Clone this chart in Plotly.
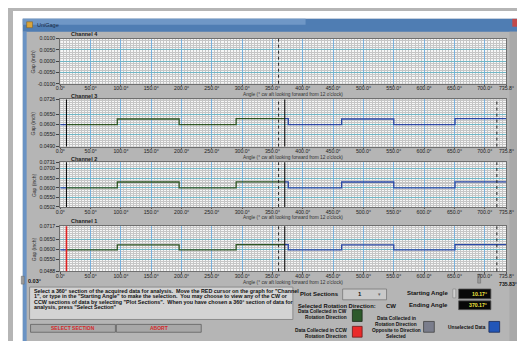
import numpy as np
import plotly.graph_objects as go

W, H = 525, 341


def X(px):
    return px / W


def Y(py):
    return 1 - py / H


# ---------------- data ----------------
step_angles = [0, 94, 196, 290, 376, 464, 550, 651]
max_angle = 735.83
ch3_levels = [0.0600, 0.0628, 0.0600, 0.0630, 0.0600, 0.0628, 0.0600, 0.0630]
ch2_levels = [0.0600, 0.0630, 0.0600, 0.0631, 0.0600, 0.0630, 0.0600, 0.0631]
ch1_levels = [0.0597, 0.0622, 0.0597, 0.0623, 0.0597, 0.0622, 0.0597, 0.0623]
start_angle = 10.17
end_angle = 370.17
rev_marks_ch4 = [360]
rev_marks = [360, 720]

x_tick_vals = [0, 50, 100, 150, 200, 250, 300, 350, 400, 450, 500, 550, 600, 650, 700, 735.83]
x_tick_text = ["0.0°", "50.0°", "100.0°", "150.0°", "200.0°", "250.0°", "300.0°", "350.0°",
               "400.0°", "450.0°", "500.0°", "550.0°", "600.0°", "650.0°", "700.0°", "735.8°"]
ch4_ticks = [-0.0100, -0.0050, 0.0000, 0.0050, 0.0100]
ch4_ticktext = ["-0.0100", "-0.0050", "0.0000", "0.0050", "0.0100"]
ch3_ticks = [0.0490, 0.0550, 0.0600, 0.0650, 0.0726]
ch3_ticktext = ["0.0490", "0.0550", "0.0600", "0.0650", "0.0726"]
ch2_ticks = [0.0502, 0.0550, 0.0600, 0.0650, 0.0700, 0.0731]
ch2_ticktext = ["0.0502", "0.0550", "0.0600", "0.0650", "0.0700", "0.0731"]
ch1_ticks = [0.0488, 0.0550, 0.0600, 0.0650, 0.0717]
ch1_ticktext = ["0.0488", "0.0550", "0.0600", "0.0650", "0.0717"]

# ---------------- styles ----------------
BG = "#b5b5b5"
GREEN = "#2e5522"
BLUE = "#2b48a6"
FONT = "Liberation Sans"
NARROW = "Liberation Sans Narrow, Arial Narrow, Liberation Sans"


def segment(a0, a1, angles, levels):
    xs, ys = [], []
    for i, a in enumerate(angles):
        nxt = angles[i + 1] if i + 1 < len(angles) else max_angle
        if nxt <= a0 or a >= a1:
            continue
        xs.append(max(a, a0))
        ys.append(levels[i])
    xs.append(a1)
    ys.append(ys[-1])
    return xs, ys


fig = go.Figure()

# panel geometry (pixels)
panels = [
    ("Channel 4", 28, 74, [-0.0100, 0.0100], ch4_ticks, ch4_ticktext, None, 23),
    ("Channel 3", 90, 138, [0.0490, 0.0726], ch3_ticks, ch3_ticktext, ch3_levels, 86.5),
    ("Channel 2", 154, 199.5, [0.0502, 0.0731], ch2_ticks, ch2_ticktext, ch2_levels, 150.5),
    ("Channel 1", 219, 265, [0.0488, 0.0717], ch1_ticks, ch1_ticktext, ch1_levels, 213.5),
]
PX0, PX1 = 48.5, 506

minor_x = [v for v in np.arange(0, max_angle, 5.0)]

shapes = []
annotations = []

for i, (name, top, bot, yr, tv, tt, levels, title_y) in enumerate(panels):
    k = "" if i == 0 else str(i + 1)
    xa, ya = "x" + k, "y" + k
    minor_y = [v for v in np.arange(np.ceil(yr[0] / 0.001) * 0.001, yr[1], 0.001)]
    fig.update_layout(**{
        "xaxis" + k: dict(
            domain=[X(PX0), X(PX1)], range=[0, max_angle], anchor=ya,
            tickmode="array", tickvals=x_tick_vals, ticktext=x_tick_text,
            showgrid=True, gridcolor="#78b0dc", gridwidth=1,
            minor=dict(tickmode="array", tickvals=minor_x, showgrid=True,
                       gridcolor="#c6c6c6", gridwidth=0.7, ticks=""),
            ticks="outside", ticklen=1.5, tickcolor="#555", tickwidth=0.6,
            ticklabelstandoff=-2,
            tickfont=dict(family=FONT, size=5.2, color="#222"),
            showline=True, linecolor="#6f6f6f", linewidth=1, mirror=True,
            zeroline=False, fixedrange=True,
        ),
        "yaxis" + k: dict(
            domain=[Y(bot), Y(top)], range=yr, anchor=xa,
            tickmode="array", tickvals=tv, ticktext=tt,
            showgrid=True, gridcolor="#70b7c6", gridwidth=1,
            minor=dict(tickmode="array", tickvals=minor_y, showgrid=True,
                       gridcolor="#c6c6c6", gridwidth=0.7, ticks=""),
            ticks="outside", ticklen=3, tickcolor="#444", tickwidth=0.6,
            tickfont=dict(family=FONT, size=5.2, color="#222"),
            showline=True, linecolor="#6f6f6f", linewidth=1, mirror=True,
            zeroline=False, fixedrange=True,
        ),
    })

    if levels is not None:
        for a0, a1, col in [(0, start_angle, BLUE), (start_angle, end_angle, GREEN),
                            (end_angle, max_angle, BLUE)]:
            xs, ys = segment(a0, a1, step_angles, levels)
            fig.add_trace(go.Scatter(x=xs, y=ys, mode="lines", line_shape="hv",
                                     line=dict(color=col, width=1.3),
                                     xaxis=xa, yaxis=ya, showlegend=False,
                                     hoverinfo="skip"))
        start_col = "#e02020" if name == "Channel 1" else "#111"
        start_w = 1.6 if name == "Channel 1" else 1.1
        shapes.append(dict(type="line", xref=xa, yref=ya + " domain", x0=start_angle, x1=start_angle,
                           y0=0, y1=1, line=dict(color=start_col, width=start_w)))
        shapes.append(dict(type="line", xref=xa, yref=ya + " domain", x0=end_angle, x1=end_angle,
                           y0=0, y1=1, line=dict(color="#111", width=1.1)))
        marks = rev_marks
    else:
        marks = rev_marks_ch4
    for m in marks:
        shapes.append(dict(type="line", xref=xa, yref=ya + " domain", x0=m, x1=m, y0=0, y1=1,
                           line=dict(color="#222", width=1, dash="dot")))

    annotations.append(dict(x=X(57), y=Y(title_y), xref="paper", yref="paper", text="<b>" + name + "</b>",
                            showarrow=False, xanchor="left", yanchor="middle",
                            font=dict(family=FONT, size=5.5, color="#222")))
    annotations.append(dict(x=X(287), y=Y(bot + 11), xref="paper", yref="paper",
                            text="Angle (° cw aft looking forward from 12 o'clock)",
                            showarrow=False, xanchor="center", yanchor="middle",
                            font=dict(family=FONT, size=4.8, color="#333")))
    annotations.append(dict(x=X(21), y=Y((top + bot) / 2), xref="paper", yref="paper",
                            text="Gap (inch)", textangle=-90,
                            showarrow=False, xanchor="center", yanchor="middle",
                            font=dict(family=FONT, size=5, color="#333")))


def rect(x0, y0, x1, y1, fill, line=None, lw=0, layer="below"):
    shapes.append(dict(type="rect", xref="paper", yref="paper", x0=X(x0), x1=X(x1), y0=Y(y1), y1=Y(y0),
                       fillcolor=fill, line=dict(color=line or fill, width=lw), layer=layer))


def text(x, y, s, size=5.5, color="#111", anchor="left", bold=True, family=FONT):
    annotations.append(dict(x=X(x), y=Y(y), xref="paper", yref="paper",
                            text=("<b>%s</b>" % s) if bold else s,
                            showarrow=False, xanchor=anchor, yanchor="middle",
                            font=dict(family=family, size=size, color=color)))


# window chrome
rect(0, 0, 525, 8, "#ffffff")
rect(522, 0, 525, 341, "#ffffff")
rect(0, 0, 10, 341, "#ffffff")
rect(10, 8, 522, 21, "#4f7db3")
rect(10, 8, 300, 14, "#6f97c6")
rect(10, 21, 14, 341, "#6a93c4")
rect(509, 21, 519, 341, "#a9a9a9")
rect(519, 21, 522, 341, "#6a8fbc")
rect(512, 8, 522, 16, "#c24a4a")
rect(14, 11, 20, 17, "#d9a43a", "#7a5a20", 0.5)
text(23, 14, "UniGage", size=5.5, color="#1a2a44", bold=False)

# slider bits
rect(8.5, 270, 11.5, 278, "#9a9a9a", "#666", 0.5)
text(13, 274.5, "0.03°", size=5.5, color="#111")
rect(476.5, 268, 479.5, 277, "#9a9a9a", "#666", 0.5)
text(508, 277.5, "735.83°", size=5.2, color="#111", anchor="center")

# instruction box
rect(17, 281, 287, 314, "#d3d3d3", "#8a8a8a", 1)
lines = [
    "Select a 360° section of the acquired data for analysis.  Move the RED cursor on the graph for \"Channel",
    "1\", or type in the \"Starting Angle\" to make the selection.  You may choose to view any of the CW or",
    "CCW sections of data by selecting \"Plot Sections\".  When you have chosen a 360° section of data for",
    "analysis, press \"Select Section\"",
]
for j, ln in enumerate(lines):
    text(19, 285 + 5.6 * j, ln, size=5.4, color="#111", family=NARROW)

# buttons
rect(18, 319, 105, 327, "#a8a8a8", "#5f5f5f", 0.8)
rect(106, 319, 193, 327, "#a8a8a8", "#5f5f5f", 0.8)
text(61.5, 323, "SELECT SECTION", size=5, color="#d42a2a", anchor="center")
text(149.5, 323, "ABORT", size=5, color="#d42a2a", anchor="center")

# right panel
text(336, 288.5, "Plot Sections", size=6, anchor="right")
rect(338, 283, 383, 294, "#c9c9c9", "#777", 0.8)
text(356, 288.5, "1", size=6, anchor="center")
text(376, 288.5, "▾", size=5, color="#666", anchor="center", bold=False)
text(290, 300, "Selected Rotation Direction:", size=5.8, anchor="left")
text(388, 300, "CW", size=6, anchor="center")
text(345, 306, "Data Collected in CW", size=4.8, anchor="right")
text(345, 312, "Rotation Direction", size=4.8, anchor="right")
rect(348, 304, 358, 316, "#2d5a2b", "#1a2a1a", 0.8)
text(345, 325, "Data Collected in CCW", size=4.8, anchor="right")
text(345, 331, "Rotation Direction", size=4.8, anchor="right")
rect(348, 321, 358, 332, "#ea2a2a", "#6a1a1a", 0.8)
for j, s in enumerate(["Data Collected in", "Rotation Direction", "Opposite to Direction", "Selected"]):
    text(393, 313 + 6 * j, s, size=4.8, anchor="center")
rect(421, 316, 432, 327, "#7a7d8c", "#444", 0.8)
text(487, 322, "Unselected Data", size=4.8, anchor="right")
rect(488, 316, 499, 327, "#2256b8", "#1a2a55", 0.8)

text(448, 287.5, "Starting Angle", size=6, anchor="right")
rect(451, 283, 454, 292, "#d0d0d0", "#777", 0.5)
rect(457, 283, 490, 293, "#080808", "#555", 0.8)
text(488, 288, "10.17°", size=5.2, color="#f2e640", anchor="right")
text(448, 299.5, "Ending Angle", size=6, anchor="right")
rect(457, 295, 490, 304, "#080808", "#555", 0.8)
text(488, 299.5, "370.17°", size=5.2, color="#f2e640", anchor="right")

fig.update_layout(
    width=W, height=H, margin=dict(l=0, r=0, t=0, b=0),
    paper_bgcolor=BG, plot_bgcolor="#f7f7f7",
    shapes=shapes, annotations=annotations, showlegend=False,
)

fig.write_html("out.html", config={"displayModeBar": False})
